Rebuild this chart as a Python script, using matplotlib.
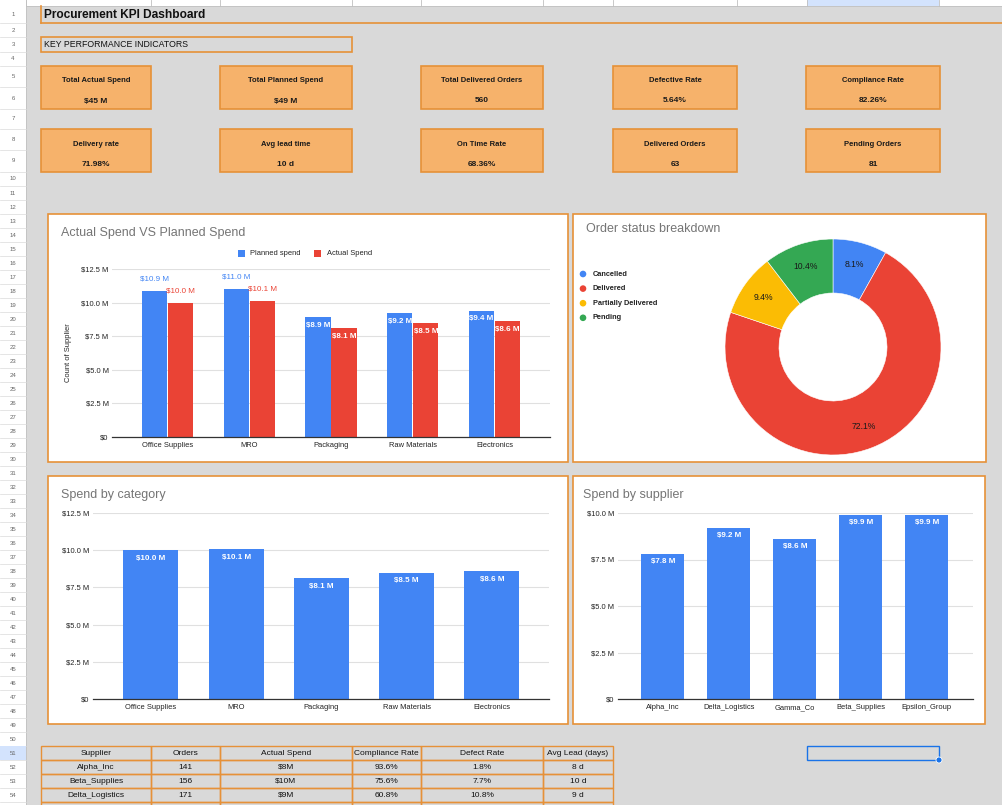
import numpy as np
import matplotlib
matplotlib.use("Agg")
import matplotlib.pyplot as plt
from matplotlib.patches import Rectangle, Circle

plt.rcParams['font.family'] = ['Liberation Sans', 'DejaVu Sans']

# ---- data ----
kpi_row1_labels = ["Total Actual Spend", "Total Planned Spend", "Total Delivered Orders", "Defective Rate", "Compliance Rate"]
kpi_row1_values = ["$45 M", "$49 M", "560", "5.64%", "82.26%"]
kpi_row2_labels = ["Delivery rate", "Avg lead time", "On Time Rate", "Delivered Orders", "Pending Orders"]
kpi_row2_values = ["71.98%", "10 d", "68.36%", "63", "81"]

categories = ["Office Supplies", "MRO", "Packaging", "Raw Materials", "Electronics"]
planned_spend = [10.9, 11.0, 8.9, 9.2, 9.4]
actual_spend = [10.0, 10.1, 8.1, 8.5, 8.6]

status_labels = ["Cancelled", "Delivered", "Partially Delivered", "Pending"]
status_share = [8.1, 72.1, 9.4, 10.4]

suppliers = ["Alpha_Inc", "Delta_Logistics", "Gamma_Co", "Beta_Supplies", "Epsilon_Group"]
supplier_spend = [7.8, 9.2, 8.6, 9.9, 9.9]

table_header = ["Supplier", "Orders", "Actual Spend", "Compliance Rate", "Defect Rate", "Avg Lead (days)"]
table_rows = [
    ["Alpha_Inc", "141", "$8M", "93.6%", "1.8%", "8 d"],
    ["Beta_Supplies", "156", "$10M", "75.6%", "7.7%", "10 d"],
    ["Delta_Logistics", "171", "$9M", "60.8%", "10.8%", "9 d"],
]

BLUE = "#4285f4"
RED = "#ea4335"
YELLOW = "#fbbc04"
GREEN = "#34a853"
ORANGE_FILL = "#f6b26b"
ORANGE_EDGE = "#e69138"
SHEET_GRAY = "#d9d9d9"
TITLE_GRAY = "#757575"

W, H = 1003, 805
fig = plt.figure(figsize=(W / 100, H / 100), dpi=100, facecolor=SHEET_GRAY)

bg = fig.add_axes([0, 0, 1, 1])
bg.set_xlim(0, W)
bg.set_ylim(H, 0)
bg.axis('off')


def px_axes(x0, y0, x1, y1):
    a = fig.add_axes([x0 / W, 1 - y1 / H, (x1 - x0) / W, (y1 - y0) / H])
    a.patch.set_alpha(0)
    return a


def box(x0, y0, x1, y1, fc="none", ec=ORANGE_EDGE, lw=1.0, z=2):
    bg.add_patch(Rectangle((x0, y0), x1 - x0, y1 - y0, facecolor=fc, edgecolor=ec, lw=lw, zorder=z))


# ---- sheet chrome: column header strip and row numbers ----
col_edges = [26, 151, 220, 352, 421, 543, 613, 737, 807, 939]
bg.add_patch(Rectangle((0, 0), W, 6, facecolor="white", edgecolor="none", zorder=1))
bg.add_patch(Rectangle((807, 0), 132, 6, facecolor="#d3e3fd", edgecolor="none", zorder=1))
for cx in col_edges:
    bg.plot([cx, cx], [0, 6], color="#c0c0c0", lw=0.6, zorder=1)
bg.plot([0, W], [6, 6], color="#c0c0c0", lw=0.6, zorder=1)

row_tops = [6, 23, 37, 52, 66, 87, 109, 129, 150, 172] + [186 + 14 * k for k in range(46)]
bg.add_patch(Rectangle((0, 0), 26, H, facecolor="white", edgecolor="none", zorder=1))
bg.plot([26, 26], [0, H], color="#c0c0c0", lw=0.6, zorder=1)
for i in range(54):
    top, bot = row_tops[i], row_tops[i + 1]
    if i + 1 == 51:
        bg.add_patch(Rectangle((0, top), 26, bot - top, facecolor="#d3e3fd", edgecolor="none", zorder=1))
    bg.plot([0, 26], [bot, bot], color="#dadada", lw=0.5, zorder=1)
    bg.text(13, (top + bot) / 2, str(i + 1), ha="center", va="center", fontsize=4.3, color="#666666", zorder=2)

# ---- title and KPI cards ----
bg.plot([41, W], [23, 23], color=ORANGE_EDGE, lw=1.2, zorder=2)
bg.plot([41, 41], [6, 23], color=ORANGE_EDGE, lw=1.2, zorder=2)
bg.text(44, 15, "Procurement KPI Dashboard", ha="left", va="center", fontsize=8.6, fontweight="bold", color="#111111")

box(41, 37, 352, 52, lw=1.2)
bg.text(44, 44.5, "KEY PERFORMANCE INDICATORS", ha="left", va="center", fontsize=6.3, color="#111111")

card_cols = [(41, 151), (220, 352), (421, 543), (613, 737), (806, 940)]
for (top, bot, labels, values) in [(66, 109, kpi_row1_labels, kpi_row1_values),
                                   (129, 172, kpi_row2_labels, kpi_row2_values)]:
    for (x0, x1), lab, val in zip(card_cols, labels, values):
        box(x0, top, x1, bot, fc=ORANGE_FILL, lw=1.2)
        xc = (x0 + x1) / 2
        bg.text(xc, top + 15, lab, ha="center", va="center", fontsize=5.5, fontweight="bold", color="#1a1a1a", zorder=3)
        bg.text(xc, top + 35, val, ha="center", va="center", fontsize=6.0, fontweight="bold", color="#1a1a1a", zorder=3)

# ---- chart panels ----
for (x0, y0, x1, y1) in [(48, 214, 568, 462), (573, 214, 986, 462), (48, 476, 568, 724), (573, 476, 985, 724)]:
    box(x0, y0, x1, y1, fc="white", lw=1.2)


def style_bar_axes(a, ymax, step, pad):
    a.set_ylim(0, ymax)
    ticks = np.arange(0, ymax + 0.01, step)
    a.set_yticks(ticks)
    a.set_yticklabels(["$0" if t == 0 else f"${t:.1f} M" for t in ticks])
    a.grid(axis="y", color="#e0e0e0", lw=0.8)
    a.set_axisbelow(True)
    for s in ["top", "right", "left"]:
        a.spines[s].set_visible(False)
    a.spines["bottom"].set_color("#333333")
    a.spines["bottom"].set_linewidth(0.9)
    a.tick_params(axis="both", length=0, labelsize=5.4, colors="#222222")
    a.tick_params(axis="y", pad=pad)
    a.tick_params(axis="x", pad=3.5)


# Chart 1: Actual vs Planned
ax1 = px_axes(112, 269, 550, 437)
x = np.arange(len(categories))
bw = 0.31
b_plan = ax1.bar(x - 0.16, planned_spend, bw, color=BLUE, label="Planned spend", zorder=2)
b_act = ax1.bar(x + 0.16, actual_spend, bw, color=RED, label="Actual Spend", zorder=2)
ax1.set_xlim(-0.68, 4.68)
ax1.set_xticks(x)
ax1.set_xticklabels(categories)
style_bar_axes(ax1, 12.5, 2.5, 2.5)
for bars, vals, col in [(b_plan, planned_spend, BLUE), (b_act, actual_spend, RED)]:
    for rect, v in zip(bars, vals):
        cx = rect.get_x() + rect.get_width() / 2
        if v >= 9.95:
            ax1.annotate(f"${v:.1f} M", (cx, v), xytext=(0, 8.5), textcoords="offset points",
                         ha="center", va="center", fontsize=5.8, color=col)
        else:
            ax1.annotate(f"${v:.1f} M", (cx, v), xytext=(0, -6), textcoords="offset points",
                         ha="center", va="center", fontsize=5.8, color="white", fontweight="bold")
ax1.set_ylabel("Count of Supplier", fontsize=5.4, color="#222222", labelpad=7)
bg.text(61, 233, "Actual Spend VS Planned Spend", ha="left", va="center", fontsize=9, color=TITLE_GRAY, zorder=3)
bg.add_patch(Rectangle((238, 249.5), 7, 7, facecolor=BLUE, edgecolor="none", zorder=3))
bg.text(250, 253, "Planned spend", ha="left", va="center", fontsize=5.4, color="#222222", zorder=3)
bg.add_patch(Rectangle((314, 249.5), 7, 7, facecolor=RED, edgecolor="none", zorder=3))
bg.text(327, 253, "Actual Spend", ha="left", va="center", fontsize=5.4, color="#222222", zorder=3)

# Chart 2: Order status donut
R = 108.0
ax2 = px_axes(833 - R, 347 - R, 833 + R, 347 + R)
ax2.pie(status_share, colors=[BLUE, RED, YELLOW, GREEN], startangle=90, counterclock=False,
        radius=1.0, wedgeprops=dict(width=0.5, edgecolor="white", linewidth=0.4),
        autopct="%.1f%%", pctdistance=0.79, textprops=dict(fontsize=6.2, color="#1a1a1a"))
ax2.set_xlim(-1, 1)
ax2.set_ylim(-1, 1)
ax2.set_aspect("equal")
bg.text(586, 229, "Order status breakdown", ha="left", va="center", fontsize=9, color=TITLE_GRAY, zorder=3)
for i, (lab, col) in enumerate(zip(status_labels, [BLUE, RED, YELLOW, GREEN])):
    yy = 274 + i * 14.6
    bg.add_patch(Circle((583, yy), 3.3, facecolor=col, edgecolor="none", zorder=3))
    bg.text(593, yy, lab, ha="left", va="center", fontsize=5.3, fontweight="bold", color="#222222", zorder=3)

# Chart 3: Spend by category
ax3 = px_axes(93, 513, 549, 699)
b3 = ax3.bar(x, actual_spend, 0.645, color=BLUE, zorder=2)
ax3.set_xlim(-0.68, 4.67)
ax3.set_xticks(x)
ax3.set_xticklabels(categories)
style_bar_axes(ax3, 12.5, 2.5, 3)
for rect, v in zip(b3, actual_spend):
    ax3.annotate(f"${v:.1f} M", (rect.get_x() + rect.get_width() / 2, v), xytext=(0, -6),
                 textcoords="offset points", ha="center", va="center", fontsize=5.8,
                 color="white", fontweight="bold")
bg.text(61, 495, "Spend by category", ha="left", va="center", fontsize=9, color=TITLE_GRAY, zorder=3)

# Chart 4: Spend by supplier
ax4 = px_axes(618, 513, 973, 699)
xs = np.arange(len(suppliers))
b4 = ax4.bar(xs, supplier_spend, 0.65, color=BLUE, zorder=2)
ax4.set_xlim(-0.68, 4.7)
ax4.set_xticks(xs)
ax4.set_xticklabels(suppliers)
style_bar_axes(ax4, 10.0, 2.5, 3)
for rect, v in zip(b4, supplier_spend):
    ax4.annotate(f"${v:.1f} M", (rect.get_x() + rect.get_width() / 2, v), xytext=(0, -5.5),
                 textcoords="offset points", ha="center", va="center", fontsize=5.8,
                 color="white", fontweight="bold")
bg.text(583, 495, "Spend by supplier", ha="left", va="center", fontsize=9, color=TITLE_GRAY, zorder=3)

# ---- supplier table ----
tcols = [41, 151, 220, 352, 421, 543, 613]
trow_tops = [row_tops[50], row_tops[51], row_tops[52], row_tops[53], row_tops[54], row_tops[55]]
for j in range(len(trow_tops) - 1):
    y0, y1 = trow_tops[j], trow_tops[j + 1]
    cells = table_header if j == 0 else (table_rows[j - 1] if j - 1 < len(table_rows) else [""] * 6)
    for k in range(6):
        box(tcols[k], y0, tcols[k + 1], y1, lw=1.0)
        bg.text((tcols[k] + tcols[k + 1]) / 2, (y0 + y1) / 2, cells[k], ha="center", va="center",
                fontsize=6.0, color="#111111", zorder=3,
                family=['Liberation Sans Narrow', 'Liberation Sans', 'DejaVu Sans'])

# selected cell
box(807, row_tops[50], 939, row_tops[51], ec="#1a73e8", lw=1.0, z=4)
bg.add_patch(Circle((939, row_tops[51]), 3, facecolor="#1a73e8", edgecolor="white", lw=0.6, zorder=5))

fig.savefig("out.png", dpi=100, facecolor=SHEET_GRAY)
